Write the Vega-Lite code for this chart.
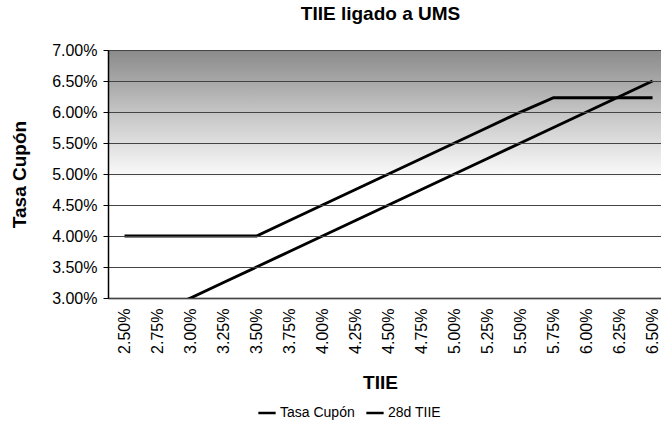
{
  "$schema": "https://vega.github.io/schema/vega-lite/v6.json",
  "width": 553,
  "height": 248,
  "autosize": {"type": "none"},
  "padding": {"left": 108, "top": 50, "right": 0, "bottom": 125},
  "background": "#ffffff",
  "config": {
    "view": {"stroke": null},
    "font": "Liberation Sans",
    "axisY": {
      "values": [0.03, 0.035, 0.04, 0.045, 0.05, 0.055, 0.06, 0.065, 0.07],
      "format": ".2%",
      "labelFontSize": 16,
      "labelColor": "#000000",
      "labelPadding": 6,
      "labelOverlap": false,
      "labelBound": false,
      "labelFlush": false,
      "tickSize": 5,
      "tickColor": "#000000",
      "grid": true,
      "gridColor": "#444444",
      "gridWidth": 1,
      "domainColor": "#000000",
      "domainWidth": 1.5,
      "titleFontSize": 19,
      "titleFontWeight": "bold",
      "titleColor": "#000000",
      "titlePadding": 22
    }
  },
  "title": {
    "text": "TIIE ligado a UMS",
    "fontSize": 19,
    "fontWeight": "bold",
    "font": "Liberation Sans",
    "color": "#000000",
    "anchor": "middle",
    "offset": 18,
    "dx": -4
  },
  "data": {
    "values": [
      {"tiie": 0.0250, "serie": "Tasa Cupón", "valor": 0.0400},
      {"tiie": 0.0275, "serie": "Tasa Cupón", "valor": 0.0400},
      {"tiie": 0.0300, "serie": "Tasa Cupón", "valor": 0.0400},
      {"tiie": 0.0325, "serie": "Tasa Cupón", "valor": 0.0400},
      {"tiie": 0.0350, "serie": "Tasa Cupón", "valor": 0.0400},
      {"tiie": 0.0375, "serie": "Tasa Cupón", "valor": 0.0425},
      {"tiie": 0.0400, "serie": "Tasa Cupón", "valor": 0.0450},
      {"tiie": 0.0425, "serie": "Tasa Cupón", "valor": 0.0475},
      {"tiie": 0.0450, "serie": "Tasa Cupón", "valor": 0.0500},
      {"tiie": 0.0475, "serie": "Tasa Cupón", "valor": 0.0525},
      {"tiie": 0.0500, "serie": "Tasa Cupón", "valor": 0.0550},
      {"tiie": 0.0525, "serie": "Tasa Cupón", "valor": 0.0575},
      {"tiie": 0.0550, "serie": "Tasa Cupón", "valor": 0.0600},
      {"tiie": 0.0575, "serie": "Tasa Cupón", "valor": 0.0623},
      {"tiie": 0.0600, "serie": "Tasa Cupón", "valor": 0.0623},
      {"tiie": 0.0625, "serie": "Tasa Cupón", "valor": 0.0623},
      {"tiie": 0.0650, "serie": "Tasa Cupón", "valor": 0.0623},
      {"tiie": 0.0250, "serie": "28d TIIE", "valor": 0.0250},
      {"tiie": 0.0275, "serie": "28d TIIE", "valor": 0.0275},
      {"tiie": 0.0300, "serie": "28d TIIE", "valor": 0.0300},
      {"tiie": 0.0325, "serie": "28d TIIE", "valor": 0.0325},
      {"tiie": 0.0350, "serie": "28d TIIE", "valor": 0.0350},
      {"tiie": 0.0375, "serie": "28d TIIE", "valor": 0.0375},
      {"tiie": 0.0400, "serie": "28d TIIE", "valor": 0.0400},
      {"tiie": 0.0425, "serie": "28d TIIE", "valor": 0.0425},
      {"tiie": 0.0450, "serie": "28d TIIE", "valor": 0.0450},
      {"tiie": 0.0475, "serie": "28d TIIE", "valor": 0.0475},
      {"tiie": 0.0500, "serie": "28d TIIE", "valor": 0.0500},
      {"tiie": 0.0525, "serie": "28d TIIE", "valor": 0.0525},
      {"tiie": 0.0550, "serie": "28d TIIE", "valor": 0.0550},
      {"tiie": 0.0575, "serie": "28d TIIE", "valor": 0.0575},
      {"tiie": 0.0600, "serie": "28d TIIE", "valor": 0.0600},
      {"tiie": 0.0625, "serie": "28d TIIE", "valor": 0.0625},
      {"tiie": 0.0650, "serie": "28d TIIE", "valor": 0.0650}
    ]
  },
  "layer": [
    {
      "mark": {
        "type": "rect",
        "color": {
          "gradient": "linear",
          "x1": 0, "y1": 0, "x2": 0, "y2": 1,
          "stops": [
            {"offset": 0, "color": "#8a8a8a"},
            {"offset": 0.25, "color": "#a8a8a8"},
            {"offset": 0.5, "color": "#c6c6c6"},
            {"offset": 0.75, "color": "#e0e0e0"},
            {"offset": 1, "color": "#fbfbfb"}
          ]
        }
      },
      "encoding": {
        "y": {
          "datum": 0.07,
          "type": "quantitative",
          "scale": {"domain": [0.03, 0.07], "nice": false, "zero": false},
          "axis": {"title": "Tasa Cupón", "zindex": 1}
        },
        "y2": {"datum": 0.0495}
      }
    },
    {
      "mark": {"type": "line", "clip": true, "strokeWidth": 3},
      "encoding": {
        "x": {
          "field": "tiie",
          "type": "quantitative",
          "scale": {"domain": [0.02375, 0.06564], "nice": false, "zero": false},
          "axis": {
            "values": [0.025, 0.0275, 0.03, 0.0325, 0.035, 0.0375, 0.04, 0.0425, 0.045, 0.0475, 0.05, 0.0525, 0.055, 0.0575, 0.06, 0.0625, 0.065],
            "format": ".2%",
            "labelAngle": -90,
            "labelFontSize": 16,
            "labelColor": "#000000",
            "labelPadding": 10,
            "labelOverlap": false,
            "labelBound": false,
            "ticks": false,
            "grid": false,
            "domainColor": "#000000",
            "domainWidth": 1.5,
            "title": "TIIE",
            "titleFontSize": 19,
            "titleFontWeight": "bold",
            "titleColor": "#000000",
            "titlePadding": 20,
            "titleX": 272
          }
        },
        "y": {
          "field": "valor",
          "type": "quantitative",
          "scale": {"domain": [0.03, 0.07], "nice": false, "zero": false},
          "axis": {"title": "Tasa Cupón", "zindex": 1}
        },
        "color": {
          "field": "serie",
          "type": "nominal",
          "scale": {"domain": ["Tasa Cupón", "28d TIIE"], "range": ["#000000", "#000000"]},
          "legend": {
            "title": null,
            "orient": "none",
            "direction": "horizontal",
            "legendX": 149,
            "legendY": 353,
            "symbolType": "stroke",
            "symbolStrokeWidth": 2.5,
            "symbolSize": 300,
            "labelFontSize": 14,
            "labelColor": "#000000",
            "columnPadding": 6,
            "labelOffset": 3
          }
        }
      }
    }
  ]
}
